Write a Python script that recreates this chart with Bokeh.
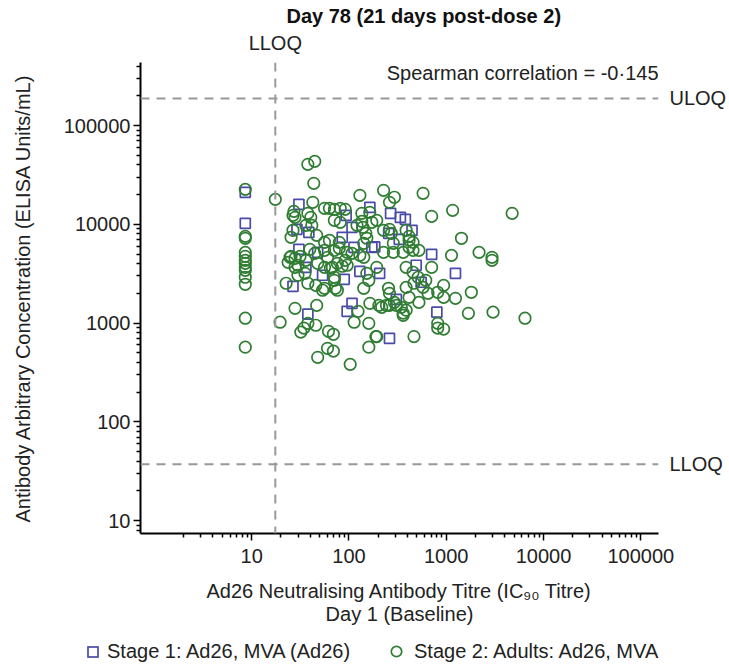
from bokeh.plotting import figure
from bokeh.models import (Label, FixedTicker, PrintfTickFormatter, Range1d, LogAxis, Span, Div, Title)
from bokeh.layouts import column
from bokeh.embed import file_html
from bokeh.resources import INLINE

FONT = "Liberation Sans"
GREEN = "#2f7d32"
BLUE = "#4a4aa8"
TXT = "#222222"

# Stage 1: Ad26, MVA (Ad26) -- squares
s1_titre = [8.6, 8.6, 30.6, 29.2, 38.7, 30.6, 47.7, 93.6, 164, 268, 107.6, 112.7, 172, 184,
            338, 380, 256, 445, 85.3, 329, 708, 1244, 801, 129.5, 206.6, 89.4, 491, 552,
            107.6, 95.8, 307, 261, 36.1, 53.6, 26.6, 37.8]
s1_conc = [21100, 10230, 15950, 8900, 8300, 5580, 5200, 12330, 14870, 12920, 9330, 5850, 5850, 5900,
           11770, 11240, 8110, 8700, 7390, 7050, 4970, 3190, 1290, 3340, 3190, 2770, 3850, 2590,
           1585, 1315, 1740, 700, 3670, 3050, 2355, 1230]

# Stage 2: Adults: Ad26, MVA -- circles
s2_titre = [8.6, 8.6, 8.6, 8.6, 8.6, 8.6, 8.6, 8.6, 8.6, 8.6, 8.6, 8.6, 8.6,
            17.5, 19.6, 37.8, 44.5, 43.5, 42.5, 56.1, 27.2, 26.6, 37.8, 40.5, 27.9, 36.1, 41.5,
            26.6, 46.6, 25.4, 24.8, 27.9, 31.4, 39.6, 44.5, 56.1, 60.2, 63.0, 56.1, 70.8, 81.4,
            63.0, 70.8, 81.4, 91.5, 129.5, 163.6, 227, 261, 293, 578, 135.7, 121, 139, 149,
            152.6, 261, 273, 387, 415, 456, 79.6, 79.6, 227, 286, 361, 456, 524, 1164, 708,
            4760, 1434, 1133, 2174, 2954, 708, 2954, 940, 817, 940, 1244, 1811, 1690, 3027,
            6450, 817, 817, 940, 466, 193, 307, 361, 387, 67.6, 85.3, 95.8, 193, 70.8, 76.0,
            152.6, 160, 142, 255, 261, 387, 456, 514, 466, 578, 387, 415, 524, 124, 164, 203,
            217, 243, 261, 293, 345, 361, 113, 160, 189, 160, 103, 61.6, 69.2, 60.2, 69.2, 47.7,
            23.7, 27.9, 47.7, 56.1, 37.8, 45.6, 53.6, 22.6, 27.9, 46.6, 37.8, 34.4, 32.0, 45.6,
            29.9, 35.3, 64.5, 76.0, 91.5, 107.6, 142, 286, 227, 172, 193, 142, 415, 415, 616,
            650, 56.1, 72.5, 70.8, 135.7, 70.8, 95.8, 129.5, 25.4, 29.9, 36.1]
s2_conc = [22600, 7560, 7220, 5200, 4740, 4320, 4030, 3670, 3420, 2910, 2470, 1120, 570,
           17900, 1020, 40500, 43400, 26000, 16700, 14520, 13540, 12330, 12920, 11770, 11770, 9770, 9770,
           8700, 7740, 7390, 4630, 4530, 4740, 5580, 5080, 5450, 4630, 6890, 6570, 10980, 10480,
           14520, 14190, 14520, 14190, 19670, 13230, 22100, 16700, 18800, 20600, 12920, 9770, 9330, 8110,
           7220, 8900, 8110, 8700, 7560, 6570, 6570, 5710, 5200, 5200, 5200, 5450, 5450, 13860, 12050,
           12920, 7220, 4850, 5200, 4630, 3670, 4320, 2410, 2050, 1820, 1780, 2050, 1256, 1290,
           1120, 994, 890, 870, 730, 730, 1510, 1260, 1350, 3670, 3760, 3850, 3670, 2710, 2150,
           3190, 2710, 2250, 2250, 2000, 3670, 3270, 2910, 2530, 2300, 2300, 1820, 1620, 1315, 1585, 1510,
           1444, 1510, 1510, 1620, 1444, 1198, 1020, 994, 730, 570, 382, 825, 770, 555, 520, 450,
           4120, 3670, 4030, 3670, 2530, 2410, 2150, 2530, 1410, 1510, 994, 890, 810, 950,
           3050, 3190, 3590, 4030, 4320, 5080, 4630, 6420, 8700, 10480, 10980, 6420, 6890, 5850, 2710,
           2000, 2250, 2250, 2910, 10720, 5450, 5200, 4850, 4740, 3850, 4320]

x_major = [10, 100, 1000, 10000, 100000]
y_major = [10, 100, 1000, 10000, 100000]
minor_mult = [2, 3, 4, 5, 6, 7, 8, 9]
x_minor = [m * d for d in [1, 10, 100, 1000, 10000] for m in minor_mult]
y_minor = [m * d for d in [1, 10, 100, 1000, 10000] for m in minor_mult] + [200000, 300000, 400000]

LLOQ_TITRE = 17.5
LLOQ_CONC = 37.2
ULOQ_CONC = 188000
X_START, X_END = 0.72, 152000
Y_START, Y_END = 7.4, 435000
title_text = "Day 78 (21 days post-dose 2)"
spearman_text = "Spearman correlation = -0\u00b7145"
legend_labels = ["Stage 1: Ad26, MVA (Ad26)", "Stage 2: Adults: Ad26, MVA"]

p = figure(width=729, height=636, x_axis_type="log", y_axis_type="log",
           x_range=Range1d(X_START, X_END), y_range=Range1d(Y_START, Y_END),
           output_backend="svg", toolbar_location=None,
           min_border_left=140, min_border_right=63, min_border_top=62, min_border_bottom=103)
p.xgrid.visible = False
p.ygrid.visible = False
p.outline_line_color = None

for ax in (p.xaxis[0], p.yaxis[0]):
    ax.axis_line_width = 2
    ax.axis_line_color = "black"
    ax.major_tick_line_width = 1.5
    ax.minor_tick_line_width = 1.5
    ax.major_tick_line_color = "black"
    ax.minor_tick_line_color = "black"
    ax.major_tick_out = 7
    ax.major_tick_in = 0
    ax.minor_tick_out = 4
    ax.minor_tick_in = 0
    ax.major_label_text_font = FONT
    ax.major_label_text_font_size = "20px"
    ax.major_label_text_color = TXT
    ax.formatter = PrintfTickFormatter(format="%d")
    ax.axis_label_text_font = FONT
    ax.axis_label_text_font_size = "20px"
    ax.axis_label_text_font_style = "normal"
    ax.axis_label_text_color = TXT

p.xaxis.ticker = FixedTicker(ticks=x_major, minor_ticks=x_minor)
p.yaxis.ticker = FixedTicker(ticks=y_major, minor_ticks=y_minor)
p.xaxis.major_label_standoff = 8
p.yaxis.major_label_standoff = 3
p.xaxis.axis_label = "Ad26 Neutralising Antibody Titre (IC\u2089\u2080 Titre)\nDay 1 (Baseline)"
p.yaxis.axis_label = "Antibody Arbitrary Concentration (ELISA Units/mL)"
p.xaxis.axis_label_text_line_height = 1.05
p.xaxis.axis_label_standoff = 14
p.yaxis.axis_label_standoff = 27

no_line = dict(axis_line_color=None, major_tick_line_color=None, minor_tick_line_color=None,
               major_label_text_font=FONT, major_label_text_font_size="20px",
               major_label_text_color=TXT)
# right-hand limit labels
lim_axis = LogAxis(ticker=FixedTicker(ticks=[ULOQ_CONC, LLOQ_CONC]),
                   major_label_overrides={ULOQ_CONC: "ULOQ", LLOQ_CONC: "LLOQ"},
                   major_label_standoff=5, **no_line)
p.add_layout(lim_axis, "right")
# top limit label
top_axis = LogAxis(ticker=FixedTicker(ticks=[LLOQ_TITRE]),
                   major_label_overrides={LLOQ_TITRE: "LLOQ"},
                   major_label_standoff=3, **no_line)
p.add_layout(top_axis, "above")

p.add_layout(Title(text=title_text, align="left", offset=146, text_font=FONT,
                   text_font_size="20px", text_font_style="bold", text_color="#111111",
                   standoff=4), "above")

dash_kw = dict(line_color="#999999", line_width=2, line_dash="9 7")
p.add_layout(Span(location=ULOQ_CONC, dimension="width", **dash_kw))
p.add_layout(Span(location=LLOQ_CONC, dimension="width", **dash_kw))
p.add_layout(Span(location=LLOQ_TITRE, dimension="height", **dash_kw))

mk1 = dict(marker="square", size=10, fill_color=None, line_color=BLUE, line_width=1.7)
mk2 = dict(marker="circle", size=11.5, fill_color=None, line_color=GREEN, line_width=1.7)
p.scatter(s1_titre, s1_conc, **mk1)
p.scatter(s2_titre, s2_conc, **mk2)

p.add_layout(Label(x=X_END, y=338000, text=spearman_text, text_baseline="middle",
                   text_align="right", text_font=FONT, text_font_size="20px", text_color=TXT))

# legend strip below the chart
sq_svg = ('<svg width="12" height="12" style="position:absolute;left:87px;top:10px">'
          '<rect x="1" y="1" width="10" height="10" fill="none" stroke="%s" stroke-width="1.7"/></svg>' % BLUE)
ci_svg = ('<svg width="13" height="13" style="position:absolute;left:390px;top:9px">'
          '<circle cx="6.5" cy="6.5" r="5.2" fill="none" stroke="%s" stroke-width="1.7"/></svg>' % GREEN)
span_css = "position:absolute;top:4px;white-space:nowrap;line-height:23px;"
legend_html = ('<div style="position:relative;width:729px;height:31px;font-family:\'%s\';'
               'font-size:20px;color:%s;">%s<span style="%sleft:107px;">%s</span>%s'
               '<span style="%sleft:414px;">%s</span></div>'
               % (FONT, TXT, sq_svg, span_css, legend_labels[0], ci_svg, span_css, legend_labels[1]))
legend_div = Div(text=legend_html, width=729, height=31, margin=(0, 0, 0, 0))

open("out.html", "w").write(file_html(column(p, legend_div, spacing=0), INLINE))
